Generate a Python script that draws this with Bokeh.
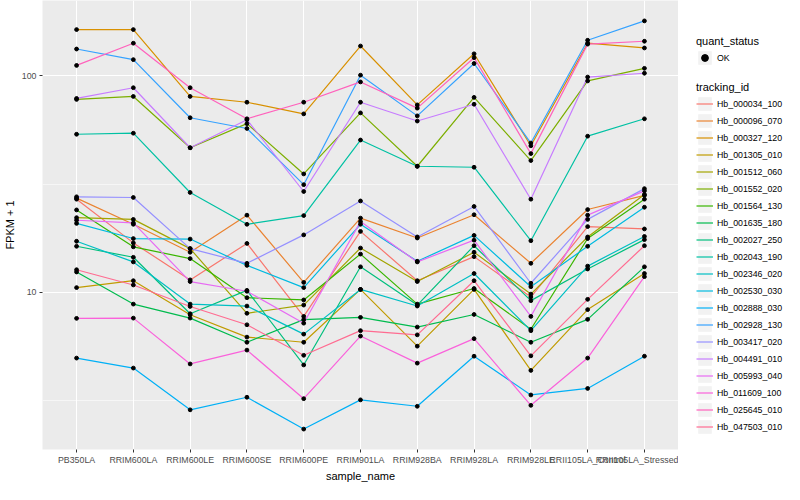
from bokeh.plotting import figure
from bokeh.layouts import row
from bokeh.models import (ColumnDataSource, FactorRange, Range1d, Legend, LegendItem,
                          FixedTicker, PrintfTickFormatter)
from bokeh.embed import file_html
from bokeh.resources import INLINE

samples = ["PB350LA", "RRIM600LA", "RRIM600LE", "RRIM600SE", "RRIM600PE", "RRIM901LA",
           "RRIM928BA", "RRIM928LA", "RRIM928LE", "RRII105LA_Control", "RRII105LA_Stressed"]

tracking_ids = ["Hb_000034_100", "Hb_000096_070", "Hb_000327_120", "Hb_001305_010",
                "Hb_001512_060", "Hb_001552_020", "Hb_001564_130", "Hb_001635_180",
                "Hb_002027_250", "Hb_002043_190", "Hb_002346_020", "Hb_002530_030",
                "Hb_002888_030", "Hb_002928_130", "Hb_003417_020", "Hb_004491_010",
                "Hb_005993_040", "Hb_011609_100", "Hb_025645_010", "Hb_047503_010"]

colors = ["#F8766D", "#EA8331", "#D89000", "#C09B00", "#A3A500", "#7CAE00", "#39B600",
          "#00BB4E", "#00BF7D", "#00C1A3", "#00BFC4", "#00BAE0", "#00B0F6", "#35A2FF",
          "#9590FF", "#C77CFF", "#E76BF3", "#FA62DB", "#FF62BC", "#FF6C91"]

# FPKM + 1 per sample (order of `samples`)
hb_000034_100 = [26.9, 16.9, 11.4, 16.8, 7.73, 19.1, 11.3, 14.6, 9.50, 20.1, 19.6]
hb_000096_070 = [27.2, 20.6, 15.3, 22.7, 11.1, 22.0, 17.8, 22.8, 13.6, 24.1, 28.0]
hb_000327_120 = [163.6, 163.6, 80.3, 75.5, 66.7, 137.3, 73.4, 126.4, 47.5, 141.5, 134.5]
hb_001305_010 = [10.5, 11.3, 7.87, 6.20, 5.87, 10.3, 5.63, 10.3, 4.35, 8.31, 12.2]
hb_001512_060 = [22.1, 21.7, 15.9, 7.99, 8.72, 16.0, 11.2, 15.3, 9.80, 18.0, 28.3]
hb_001552_020 = [77.8, 80.3, 46.5, 60.1, 35.2, 67.4, 38.2, 79.5, 40.6, 94.7, 108.3]
hb_001564_130 = [24.0, 16.2, 14.3, 9.43, 9.21, 15.0, 8.81, 10.4, 6.74, 17.7, 26.9]
hb_001635_180 = [12.4, 8.81, 7.59, 5.87, 7.47, 7.65, 6.90, 7.89, 5.87, 7.49, 13.1]
hb_002027_250 = [16.3, 14.5, 7.95, 10.2, 4.61, 13.1, 8.72, 16.4, 9.14, 12.8, 17.5]
hb_002043_190 = [53.7, 54.3, 28.9, 20.6, 22.6, 50.5, 38.2, 37.8, 17.3, 52.6, 63.3]
hb_002346_020 = [17.2, 13.8, 8.81, 8.63, 6.40, 10.3, 8.63, 12.2, 6.64, 13.2, 18.1]
hb_002530_030 = [20.8, 17.7, 17.6, 13.3, 10.5, 20.6, 13.9, 18.3, 10.6, 16.3, 24.7]
hb_002888_030 = [4.96, 4.46, 2.86, 3.27, 2.33, 3.18, 2.97, 5.06, 3.35, 3.59, 5.06]
hb_002928_130 = [133.0, 118.8, 64.0, 57.1, 31.4, 100.7, 65.3, 114.0, 48.9, 146.0, 179.4]
hb_003417_020 = [27.6, 27.4, 15.9, 13.6, 18.4, 26.4, 18.0, 24.9, 11.0, 21.7, 30.1]
hb_004491_010 = [78.6, 88.1, 46.5, 62.7, 29.2, 75.5, 61.8, 73.9, 26.9, 98.7, 102.8]
hb_005993_040 = [21.5, 20.9, 11.2, 10.1, 7.19, 21.2, 13.8, 17.4, 7.73, 22.7, 29.4]
hb_011609_100 = [7.57, 7.59, 4.66, 5.40, 3.22, 6.27, 4.70, 6.10, 3.00, 4.96, 11.8]
hb_025645_010 = [111.7, 141.5, 88.1, 63.3, 75.5, 93.7, 70.9, 121.3, 43.7, 140.1, 144.5]
hb_047503_010 = [12.7, 10.8, 8.59, 7.07, 5.11, 6.64, 6.35, 11.3, 5.08, 9.27, 16.4]

series = [hb_000034_100, hb_000096_070, hb_000327_120, hb_001305_010, hb_001512_060,
          hb_001552_020, hb_001564_130, hb_001635_180, hb_002027_250, hb_002043_190,
          hb_002346_020, hb_002530_030, hb_002888_030, hb_002928_130, hb_003417_020,
          hb_004491_010, hb_005993_040, hb_011609_100, hb_025645_010, hb_047503_010]

quant_status = "OK"
y_ticks = [10, 100]
y_minor = [10 ** 0.5, 10 ** 1.5]

FONT = "Liberation Sans"
H = 484
LEG_W = 106

p = figure(width=784 - LEG_W, height=H,
           x_range=FactorRange(*samples, range_padding=0.1, range_padding_units="absolute"),
           y_range=Range1d(1.875, 222.9), y_axis_type="log",
           output_backend="svg", toolbar_location=None,
           min_border_left=35, min_border_right=0, min_border_top=0, min_border_bottom=30,
           background_fill_color="#EBEBEB", border_fill_color="white", outline_line_color=None)

# grid
ticker = FixedTicker(ticks=y_ticks, minor_ticks=y_minor)
p.yaxis.ticker = ticker
p.ygrid.ticker = ticker
p.xgrid.grid_line_color = "white"
p.xgrid.grid_line_width = 1.1
p.ygrid.grid_line_color = "white"
p.ygrid.grid_line_width = 1.1
p.ygrid.minor_grid_line_color = "white"
p.ygrid.minor_grid_line_width = 0.55

# axes
p.yaxis.formatter = PrintfTickFormatter(format="%d")
for ax in (p.xaxis[0], p.yaxis[0]):
    ax.axis_line_color = None
    ax.major_tick_line_color = "#333333"
    ax.major_tick_in = 0
    ax.major_tick_out = 3
    ax.minor_tick_line_color = None
    ax.major_label_text_font = FONT
    ax.major_label_text_font_size = "8.8px"
    ax.major_label_text_color = "#4D4D4D"
    ax.axis_label_text_font = FONT
    ax.axis_label_text_font_size = "11px"
    ax.axis_label_text_font_style = "normal"
    ax.axis_label_text_color = "black"
p.xaxis.axis_label = "sample_name"
p.yaxis.axis_label = "FPKM + 1"
p.xaxis.major_label_standoff = 2
p.xaxis.axis_label_standoff = 2
p.yaxis.major_label_standoff = 2
p.yaxis.axis_label_standoff = 3

# lines
for col, vals in zip(colors, series):
    p.line(x=samples, y=vals, line_color=col, line_width=1.2)

# points
px, py, ps = [], [], []
for vals in series:
    for s, v in zip(samples, vals):
        px.append(s)
        py.append(v)
        ps.append(quant_status)
pts_src = ColumnDataSource(data=dict(x=px, y=py, status=ps))
p.scatter(x="x", y="y", source=pts_src, size=3.8, marker="circle",
          fill_color="black", line_color="black")

# ---- legend panel (key glyphs sit outside its visible range) ----
lf = figure(width=LEG_W, height=H, x_range=Range1d(0, 1), y_range=Range1d(0, 1),
            output_backend="svg", toolbar_location=None,
            x_axis_location=None, y_axis_location=None,
            min_border=0, outline_line_color=None,
            background_fill_color="white", border_fill_color="white")
lf.xgrid.visible = False
lf.ygrid.visible = False

off = [-10, -11]
key_bg = lf.rect(x=off, y=off, width=1, height=1, fill_color="#F2F2F2", line_color=None)
key_pt = lf.scatter(x=off, y=off, size=4, marker="circle", fill_color="black", line_color="black")
key_lines = [lf.line(x=off, y=off, line_color=c, line_width=1.2) for c in colors]

def style_legend(lg):
    lg.padding = 0
    lg.margin = 0
    lg.border_line_color = None
    lg.background_fill_alpha = 0
    lg.glyph_width = 17
    lg.glyph_height = 17
    lg.label_height = 17
    lg.spacing = 0
    lg.label_standoff = 4
    lg.label_text_font = FONT
    lg.label_text_font_size = "8.8px"
    lg.label_text_color = "black"
    lg.title_text_font = FONT
    lg.title_text_font_size = "11px"
    lg.title_text_font_style = "normal"
    lg.title_text_color = "black"
    lg.title_standoff = 2

legend_status = Legend(items=[LegendItem(label=quant_status, renderers=[key_bg, key_pt])],
                       title="quant_status", location=(18, 383))
style_legend(legend_status)
legend_ids = Legend(items=[LegendItem(label=tid, renderers=[key_bg, r])
                           for tid, r in zip(tracking_ids, key_lines)],
                    title="tracking_id", location=(18, 14))
style_legend(legend_ids)
lf.add_layout(legend_status)
lf.add_layout(legend_ids)

layout = row(p, lf)
open("out.html", "w").write(file_html(layout, INLINE))
